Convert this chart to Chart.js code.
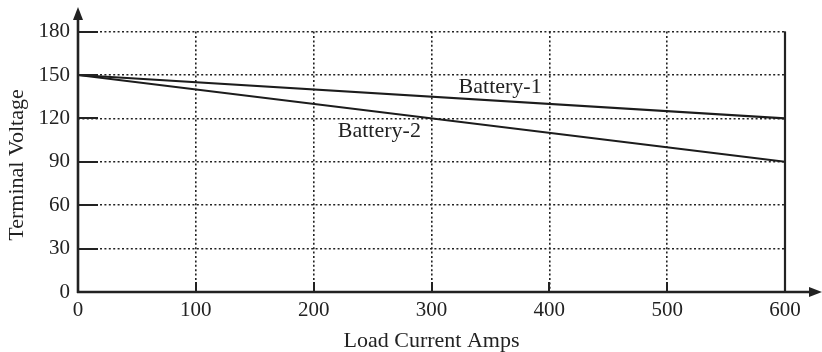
<!DOCTYPE html>
<html>
<head>
<meta charset="utf-8">
<script src="https://cdn.jsdelivr.net/npm/chart.js@4.4.1/dist/chart.umd.min.js"></script>
<style>
  html, body { margin: 0; padding: 0; background: #ffffff; }
  #wrap { width: 822px; height: 352px; }
</style>
</head>
<body>
<div id="wrap"><canvas id="chart" width="822" height="352"></canvas></div>
<script>
// Terminal voltage of two batteries against load current
const loadCurrent = [0, 600];
const battery1 = [150, 120];
const battery2 = [150, 90];
const seriesNames = ['Battery-1', 'Battery-2'];
// where each series name sits, in data units [current, voltage]
const nameAnchors = [[323, 137.6], [220.5, 107.2]];

const xTickValues = [0, 100, 200, 300, 400, 500, 600];
const yTickValues = [0, 30, 60, 90, 120, 150, 180];
const xTitle = 'Load Current Amps';
const yTitle = 'Terminal Voltage';

const INK = '#222222';
const FONT = '"Liberation Serif", "Times New Roman", serif';
const TICK_SIZE = 21;
const TEXT_SIZE = 22;

const toPoints = (xs, ys) => xs.map((x, i) => ({ x: x, y: ys[i] }));

// Solid axes with arrowheads, short solid tick stubs, the solid right edge,
// series name labels and the axis titles.
const axesPlugin = {
  id: 'axesDecor',
  afterDraw(chart) {
    const ctx = chart.ctx;
    const xs = chart.scales.x;
    const ys = chart.scales.y;
    const a = chart.chartArea;
    ctx.save();
    ctx.strokeStyle = INK;
    ctx.fillStyle = INK;
    ctx.lineCap = 'butt';

    // right edge of the plot
    ctx.lineWidth = 2.2;
    ctx.beginPath();
    ctx.moveTo(a.right, a.top);
    ctx.lineTo(a.right, a.bottom);
    ctx.stroke();

    // tick stubs on the y axis
    ctx.lineWidth = 2;
    yTickValues.forEach(v => {
      const py = Math.round(ys.getPixelForValue(v));
      ctx.beginPath();
      ctx.moveTo(a.left, py);
      ctx.lineTo(a.left + 20, py);
      ctx.stroke();
    });
    // tick stubs on the x axis
    xTickValues.forEach(v => {
      const px = Math.round(xs.getPixelForValue(v));
      ctx.beginPath();
      ctx.moveTo(px, a.bottom);
      ctx.lineTo(px, a.bottom - 10);
      ctx.stroke();
    });

    // y axis with arrow
    ctx.lineWidth = 2.6;
    ctx.beginPath();
    ctx.moveTo(a.left, a.bottom + 1);
    ctx.lineTo(a.left, 18);
    ctx.stroke();
    ctx.beginPath();
    ctx.moveTo(a.left, 7);
    ctx.lineTo(a.left - 5, 20);
    ctx.lineTo(a.left + 5, 20);
    ctx.closePath();
    ctx.fill();

    // x axis with arrow
    ctx.beginPath();
    ctx.moveTo(a.left - 1, a.bottom);
    ctx.lineTo(812, a.bottom);
    ctx.stroke();
    ctx.beginPath();
    ctx.moveTo(822, a.bottom);
    ctx.lineTo(809, a.bottom - 5);
    ctx.lineTo(809, a.bottom + 5);
    ctx.closePath();
    ctx.fill();

    // series names
    ctx.font = TEXT_SIZE + 'px ' + FONT;
    ctx.textAlign = 'left';
    ctx.textBaseline = 'alphabetic';
    seriesNames.forEach((name, i) => {
      const p = nameAnchors[i];
      ctx.fillText(name, xs.getPixelForValue(p[0]), ys.getPixelForValue(p[1]));
    });

    // axis titles
    ctx.textAlign = 'center';
    ctx.fillText(xTitle, (a.left + a.right) / 2, 347);
    ctx.save();
    ctx.translate(23, 165);
    ctx.rotate(-Math.PI / 2);
    ctx.fillText(yTitle, 0, 0);
    ctx.restore();

    ctx.restore();
  }
};

new Chart(document.getElementById('chart'), {
  type: 'line',
  data: {
    datasets: [
      {
        label: seriesNames[0],
        data: toPoints(loadCurrent, battery1),
        borderColor: '#1c1c1c',
        borderWidth: 2.1,
        pointRadius: 0,
        fill: false,
        tension: 0
      },
      {
        label: seriesNames[1],
        data: toPoints(loadCurrent, battery2),
        borderColor: '#1c1c1c',
        borderWidth: 2.1,
        pointRadius: 0,
        fill: false,
        tension: 0
      }
    ]
  },
  options: {
    responsive: false,
    animation: false,
    devicePixelRatio: 1,
    layout: { padding: { top: 31.6, right: 37, bottom: 0, left: 0 } },
    plugins: {
      legend: { display: false },
      tooltip: { enabled: false },
      title: { display: false }
    },
    scales: {
      x: {
        type: 'linear',
        min: 0,
        max: 600,
        afterBuildTicks(scale) { scale.ticks = xTickValues.map(v => ({ value: v })); },
        afterFit(scale) { scale.height = 60; },
        ticks: {
          color: INK,
          font: { family: FONT, size: TICK_SIZE },
          padding: 6,
          maxRotation: 0,
          autoSkip: false
        },
        grid: { color: INK, lineWidth: 1.6, drawTicks: false },
        border: { display: false, dash: [2, 2.4] }
      },
      y: {
        type: 'linear',
        min: 0,
        max: 180,
        afterBuildTicks(scale) { scale.ticks = yTickValues.map(v => ({ value: v })); },
        afterFit(scale) { scale.width = 78; },
        ticks: {
          color: INK,
          font: { family: FONT, size: TICK_SIZE },
          padding: 8,
          autoSkip: false
        },
        grid: { color: INK, lineWidth: 1.6, drawTicks: false },
        border: { display: false, dash: [2, 2.4] }
      }
    }
  },
  plugins: [axesPlugin]
});
</script>
</body>
</html>
